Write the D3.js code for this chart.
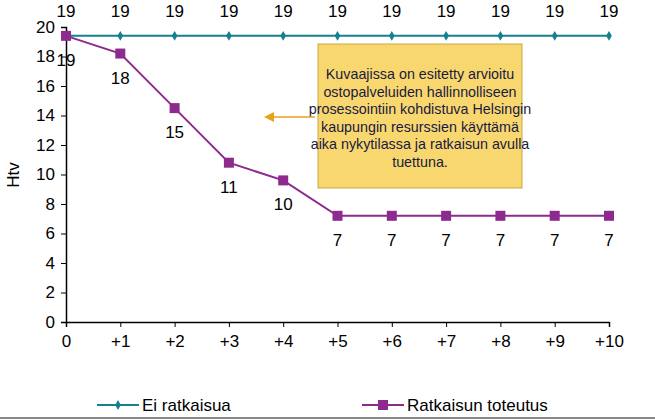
<!DOCTYPE html>
<html><head><meta charset="utf-8">
<script src="https://cdn.jsdelivr.net/npm/d3@7"></script>
<style>body{margin:0;background:#fff;font-family:"Liberation Sans",Arial,sans-serif}</style>
</head><body><svg id="c" width="655" height="420"></svg>
<script>
const categories = ['0','+1','+2','+3','+4','+5','+6','+7','+8','+9','+10'];
const eiRatkaisua = [19.4,19.4,19.4,19.4,19.4,19.4,19.4,19.4,19.4,19.4,19.4];
const eiLabels = [19,19,19,19,19,19,19,19,19,19,19];
const toteutus = [19.4,18.2,14.5,10.8,9.6,7.2,7.2,7.2,7.2,7.2,7.2];
const toteutusLabels = [19,18,15,11,10,7,7,7,7,7,7];
const yTicks = [0,2,4,6,8,10,12,14,16,18,20];
const noteLines = ['Kuvaajissa on esitetty arvioitu','ostopalveluiden hallinnolliseen','prosessointiin kohdistuva Helsingin','kaupungin resurssien käyttämä','aika nykytilassa ja ratkaisun avulla','tuettuna.'];

const svg = d3.select('#c');
const x = d3.scalePoint().domain(categories).range([66, 609]);
const y = d3.scaleLinear().domain([0, 20]).range([322, 27]);
const teal = '#15808e', purple = '#8e2a8e';
const fs = 17;

// axes
svg.append('g').attr('transform', 'translate(66,0)')
  .call(d3.axisLeft(y).tickValues(yTicks).tickSize(5).tickPadding(6))
  .call(g => g.select('.domain').attr('stroke-width', 1.5))
  .call(g => g.selectAll('text').attr('font-size', fs).attr('fill', '#000').attr('font-family', 'Liberation Sans, Arial'));
svg.append('g').attr('transform', 'translate(0,322)')
  .call(d3.axisBottom(x).tickSize(5).tickPadding(8))
  .call(g => g.select('.domain').attr('stroke-width', 1.5))
  .call(g => g.selectAll('text').attr('font-size', fs).attr('fill', '#000').attr('font-family', 'Liberation Sans, Arial'));
svg.append('text').attr('transform', 'translate(19,175) rotate(-90)').attr('text-anchor', 'middle')
  .attr('font-size', fs).text('Htv');

const line = d3.line().x((d, i) => x(categories[i])).y(d => y(d));
svg.append('path').datum(eiRatkaisua).attr('d', line).attr('fill', 'none').attr('stroke', teal).attr('stroke-width', 2);
svg.append('path').datum(toteutus).attr('d', line).attr('fill', 'none').attr('stroke', purple).attr('stroke-width', 2);

svg.selectAll('.dm').data(eiRatkaisua).join('path')
  .attr('d', d3.symbol(d3.symbolDiamond, 28))
  .attr('transform', (d, i) => `translate(${x(categories[i])},${y(d)})`).attr('fill', teal);
svg.selectAll('.sq').data(toteutus).join('rect')
  .attr('x', (d, i) => x(categories[i]) - 5).attr('y', d => y(d) - 5)
  .attr('width', 10).attr('height', 10).attr('fill', purple);

svg.selectAll('.tl').data(eiLabels).join('text')
  .attr('x', (d, i) => x(categories[i])).attr('y', 17).attr('text-anchor', 'middle')
  .attr('font-size', fs).text(d => d);
svg.selectAll('.pl').data(toteutusLabels).join('text')
  .attr('x', (d, i) => x(categories[i])).attr('y', (d, i) => y(toteutus[i]) + 30).attr('text-anchor', 'middle')
  .attr('font-size', fs).text(d => d);

// callout
svg.append('rect').attr('x', 318).attr('y', 44).attr('width', 204).attr('height', 144)
  .attr('fill', '#f8d76e').attr('stroke', '#c9a94a').attr('stroke-width', 1);
svg.append('text').attr('text-anchor', 'middle').attr('font-size', 14.3).attr('fill', '#1a1a40')
  .selectAll('tspan').data(noteLines).join('tspan')
  .attr('x', 420).attr('y', (d, i) => 79 + i * 17.5).text(d => d);
svg.append('line').attr('x1', 315).attr('y1', 117).attr('x2', 272).attr('y2', 117)
  .attr('stroke', '#e8a21a').attr('stroke-width', 1.5);
svg.append('path').attr('d', 'M264,117 L274,112 L274,122 Z').attr('fill', '#e8a21a');

// legend
const lg = [{name: 'Ei ratkaisua', c: teal, x: 97}, {name: 'Ratkaisun toteutus', c: purple, x: 362}];
lg.forEach(l => {
  svg.append('line').attr('x1', l.x).attr('x2', l.x + 42).attr('y1', 405).attr('y2', 405).attr('stroke', l.c).attr('stroke-width', 2);
  if (l.c === teal) svg.append('path').attr('d', d3.symbol(d3.symbolDiamond, 28)).attr('transform', `translate(${l.x + 21},405)`).attr('fill', teal);
  else svg.append('rect').attr('x', l.x + 16).attr('y', 400).attr('width', 10).attr('height', 10).attr('fill', purple);
  svg.append('text').attr('x', l.x + 45).attr('y', 411).attr('font-size', fs).text(l.name);
});
svg.append('line').attr('x1', 0).attr('x2', 655).attr('y1', 418).attr('y2', 418).attr('stroke', '#888').attr('stroke-width', 2);
</script></body></html>
